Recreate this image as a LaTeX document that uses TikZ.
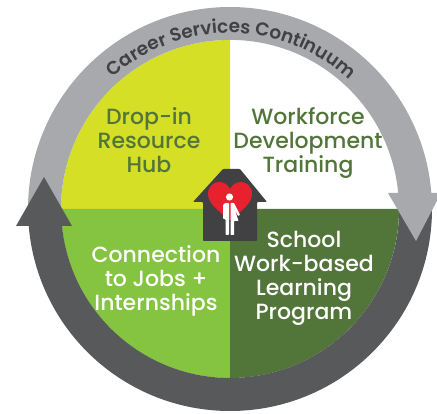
\documentclass[tikz,border=0pt]{standalone}
\usepackage{fontspec}
\setmainfont{Poppins Medium}
\newfontfamily\titlefont{Poppins SemiBold}
\usetikzlibrary{decorations.text}
\definecolor{ringgrey}{HTML}{A7A9AC}
\definecolor{ringdark}{HTML}{58595B}
\definecolor{housedark}{HTML}{414042}
\definecolor{lime}{HTML}{D5DF26}
\definecolor{midgreen}{HTML}{85C441}
\definecolor{deepgreen}{HTML}{52753A}
\definecolor{heartred}{HTML}{E7222E}
\tikzset{
  label text/.style={align=center,font=\fontsize{22}{24}\selectfont,inner sep=0pt,
    execute at begin node=\strut,execute at end node=\strut},
  green label/.style={label text,text=deepgreen},
  white label/.style={label text,text=white}
}
\begin{document}
\begin{tikzpicture}[x=1pt,y=-1pt]
\useasboundingbox (0,0) rectangle (437,414);
% quadrants (angles are measured with y pointing down)
\fill[lime] (230,209) -- (61,209) arc[start angle=180,end angle=270,radius=169] -- cycle;
\fill[midgreen] (230,209) -- (61,209) arc[start angle=180,end angle=90,radius=169] -- cycle;
\fill[deepgreen] (230,209) -- (399,209) arc[start angle=0,end angle=90,radius=169] -- cycle;
% grey ring
\fill[ringgrey] (28,209) arc[start angle=180,end angle=355.5,radius=202] -- (431.3,193) -- (398.2,193) arc[start angle=354.6,end angle=180,radius=169] -- cycle;
% dark ring
\fill[ringdark] (62,226) arc[start angle=174.2,end angle=0,radius=169] -- (432,209) arc[start angle=0,end angle=175.2,radius=202] -- cycle;
% arrow heads
\fill[ringgrey] (388,193) -- (441,193) -- (416,241) -- cycle;
\fill[ringdark] (16,226) -- (72,226) -- (44,177) -- cycle;
% curved title
\path[decorate,decoration={text along path,text align=center,text color=housedark,
  text={|\titlefont\fontsize{18.5}{20}\selectfont|Career Services Continuum}}]
  (95.2,95.9) arc[start angle=220,end angle=321,radius=176];
% labels
\node[green label] (hub) at (149,143.2) {Drop-in\\Resource\\Hub};
\node[green label] (wf) at (308,143.2) {Workforce\\Development\\Training};
\node[white label] (jobs) at (156,281.2) {Connection\\to Jobs +\\Internships};
\node[white label] (school) at (304,279.2) {School\\Work-based\\Learning\\Program};
% house
\fill[housedark,rounded corners=0.8pt] (223,169) -- (240,169) -- (267,202) -- (257,202) -- (257,241) -- (203,241) -- (203,202) -- (193,202) -- cycle;
% heart
\fill[heartred] (230,220) .. controls (218,211) and (208,203) .. (208,194)
  .. controls (208,186) and (214,182) .. (219,182)
  .. controls (224,182) and (228,185) .. (230,189)
  .. controls (232,185) and (236,182) .. (241,182)
  .. controls (246,182) and (252,186) .. (252,194)
  .. controls (252,203) and (242,211) .. (230,220) -- cycle;
% person
\fill[white] (229.5,197) circle[radius=3.6];
\fill[white,rounded corners=0.8pt] (225,203) -- (229,203) -- (229,235) -- (225.5,235) -- (225.5,219) -- (223,219) -- (223,205) -- cycle;
\fill[white,rounded corners=0.5pt] (230.5,203) -- (234,203) -- (240,215) -- (238,216) -- (234.5,209) -- (238.5,221) -- (234,221) -- (234,235) -- (230.5,235) -- cycle;
\end{tikzpicture}
\end{document}
